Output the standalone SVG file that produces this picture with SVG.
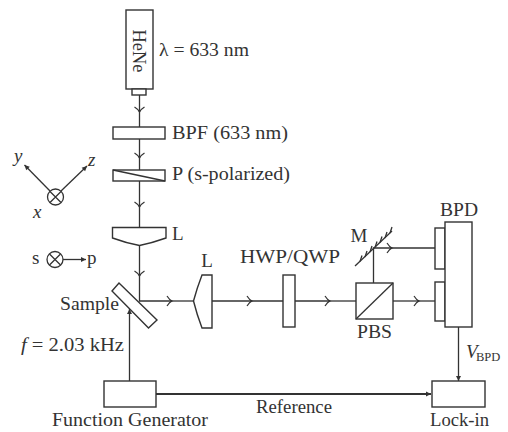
<svg xmlns="http://www.w3.org/2000/svg" width="508" height="432" viewBox="0 0 508 432">
<style>
.s{fill:none;stroke:#333;stroke-width:1.3}
.b{fill:#fff;stroke:#333;stroke-width:1.4}
.t{font-family:"Liberation Serif","Times New Roman",serif;font-size:19px;fill:#333}
.i{font-style:italic}
.m{text-anchor:middle}
</style>
<defs>
<marker id="open" viewBox="-8 -6 10 12" refX="0" refY="0" markerWidth="10" markerHeight="12" markerUnits="userSpaceOnUse" orient="auto" overflow="visible">
<path d="M-5 -5Q-2.500 -1 0 0Q-2.500 1 -5 5" fill="none" stroke="#333" stroke-width="1.200"/>
</marker>
<marker id="solid" viewBox="-6 -4 7 8" refX="0" refY="0" markerWidth="7" markerHeight="8" markerUnits="userSpaceOnUse" orient="auto" overflow="visible">
<path d="M-5 -2.500L0 0L-5 2.500Z" fill="#333"/>
</marker>
</defs>
<rect width="508" height="432" fill="#fff"/>
<g id="connectors">
<path class="s" d="M139.500 95V112" marker-end="url(#open)"/>
<path class="s" d="M139.500 110V127"/>
<path class="s" d="M139.500 139V158" marker-end="url(#open)"/>
<path class="s" d="M139.500 156V170"/>
<path class="s" d="M139.500 181V207" marker-end="url(#open)"/>
<path class="s" d="M139.500 205V227"/>
<path class="s" d="M139.500 245V276" marker-end="url(#open)"/>
<path class="s" d="M139.500 274V301H172" marker-end="url(#open)"/>
<path class="s" d="M170 301H193"/>
<path class="s" d="M212 301H252" marker-end="url(#open)"/>
<path class="s" d="M250 301H283"/>
<path class="s" d="M295 301H330" marker-end="url(#open)"/>
<path class="s" d="M328 301H356"/>
<path class="s" d="M393 301H419" marker-end="url(#open)"/>
<path class="s" d="M417 301H435"/>
<path class="s" d="M373.500 283V248H392" marker-end="url(#open)"/>
<path class="s" d="M390 248H435"/>
<path class="s" d="M129.500 381V309" marker-end="url(#solid)"/>
<path d="M156 394H431" fill="none" stroke="#333" stroke-width="1.800" marker-end="url(#solid)"/>
<path class="s" d="M458.500 327V381" marker-end="url(#solid)"/>
</g>
<g id="hene">
<rect class="b" x="126" y="10" width="27" height="79"/>
<rect class="b" x="132" y="89" width="14" height="6"/>
<text class="t m" transform="translate(133 51) rotate(90)" textLength="43" lengthAdjust="spacingAndGlyphs">HeNe</text>
<text class="t" x="159" y="56" textLength="90" lengthAdjust="spacingAndGlyphs">λ = 633 nm</text>
</g>
<g id="bpf">
<rect class="b" x="113" y="127" width="52" height="12"/>
<text class="t" x="172" y="139" textLength="116" lengthAdjust="spacingAndGlyphs">BPF (633 nm)</text>
</g>
<g id="polarizer">
<rect class="b" x="113" y="170" width="52" height="11"/>
<path class="s" d="M113 170L165 181"/>
<text class="t" x="172" y="180" textLength="118" lengthAdjust="spacingAndGlyphs">P (s-polarized)</text>
</g>
<g id="axes">
<circle class="s" cx="55.500" cy="197" r="8"/>
<path class="s" d="M50 191.500L61 202.500M61 191.500L50 202.500"/>
<path class="s" d="M50 191L24.500 165" marker-end="url(#solid)"/>
<path class="s" d="M61 191L87 166" marker-end="url(#solid)"/>
<text class="t i" x="14" y="162">y</text>
<text class="t i" x="88" y="166">z</text>
<text class="t i" x="33" y="218">x</text>
</g>
<g id="lens1">
<path class="b" d="M112.500 227.500H166V238Q152 243 139.500 245.500Q126 243 112.500 238Z"/>
<text class="t" x="172" y="240">L</text>
</g>
<g id="sp">
<text class="t" x="32" y="264">s</text>
<circle class="s" cx="55" cy="259.500" r="8"/>
<path class="s" d="M49.500 254L60.500 265M60.500 254L49.500 265"/>
<path class="s" d="M63 259.500H86" marker-end="url(#solid)"/>
<text class="t" x="87" y="264">p</text>
</g>
<g id="sample">
<path class="b" d="M112 291L119 283L157 320L148.500 328Z"/>
<text class="t" x="60" y="310" textLength="59" lengthAdjust="spacingAndGlyphs">Sample</text>
</g>
<g id="freq">
<text class="t" x="21" y="351" textLength="103" lengthAdjust="spacingAndGlyphs"><tspan class="i">f</tspan> = 2.03 kHz</text>
</g>
<g id="lens2">
<path class="b" d="M212 275H202Q197 288 193.500 301Q197 315 202 328H212Z"/>
<text class="t m" x="207" y="267">L</text>
</g>
<g id="waveplate">
<rect class="b" x="283" y="275" width="12" height="52"/>
<text class="t" x="240" y="263" textLength="100" lengthAdjust="spacingAndGlyphs">HWP/QWP</text>
</g>
<g id="mirror">
<path class="s" d="M355 266L392 231"/>
<path class="s" d="M360 261.500L362 255.500M365 257L367 251M370 252L372 246M375 247.500L377 241.500M380 242.500L382 236.500M385 238L387 232M390 233L392 227"/>
<text class="t m" x="359" y="242">M</text>
</g>
<g id="pbs">
<rect class="b" x="356" y="283" width="37" height="36"/>
<path class="s" d="M356 319L393 283"/>
<text class="t" x="357" y="338" textLength="35" lengthAdjust="spacingAndGlyphs">PBS</text>
</g>
<g id="bpd">
<rect class="b" x="435" y="228" width="10" height="41"/>
<rect class="b" x="435" y="282" width="10" height="39"/>
<rect class="b" x="445" y="222" width="27" height="105"/>
<text class="t" x="440" y="216" textLength="38" lengthAdjust="spacingAndGlyphs">BPD</text>
<text class="t i" x="466" y="358">V</text>
<text x="476" y="361" style="font-family:'Liberation Serif',serif;font-size:12.500px;fill:#333">BPD</text>
</g>
<g id="function-generator">
<rect class="b" x="104" y="381" width="52" height="26"/>
<text class="t" x="52" y="426" textLength="156" lengthAdjust="spacingAndGlyphs">Function Generator</text>
</g>
<text class="t" x="256" y="413" textLength="76" lengthAdjust="spacingAndGlyphs">Reference</text>
<g id="lock-in">
<rect class="b" x="432" y="381" width="53" height="26"/>
<text class="t" x="430" y="426" textLength="59" lengthAdjust="spacingAndGlyphs">Lock-in</text>
</g>
</svg>
